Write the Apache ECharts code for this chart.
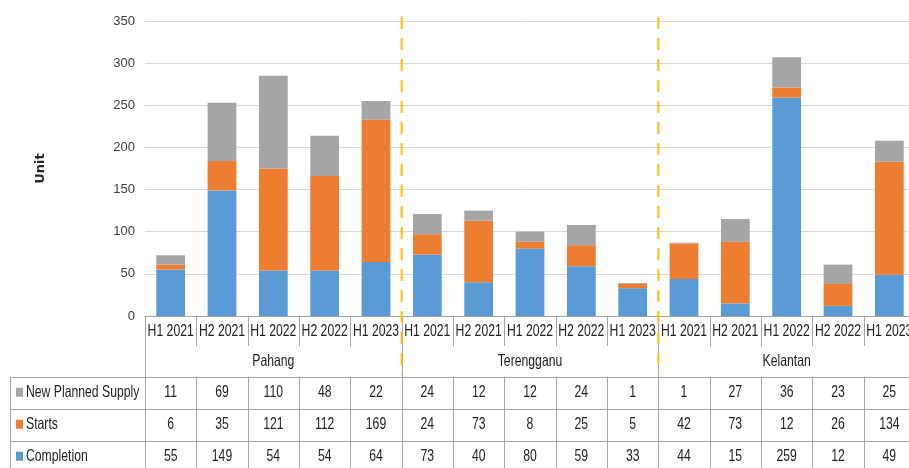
<!DOCTYPE html>
<html>
<head>
<meta charset="utf-8">
<script src="https://cdn.jsdelivr.net/npm/echarts@6/dist/echarts.min.js"></script>
<style>
  html, body { margin: 0; padding: 0; background: #ffffff; }
  #chart { width: 909px; height: 468px; }
</style>
</head>
<body>
<div id="chart"></div>
<script>
// Half-year periods, grouped by state
const periods = ['H1 2021', 'H2 2021', 'H1 2022', 'H2 2022', 'H1 2023',
                 'H1 2021', 'H2 2021', 'H1 2022', 'H2 2022', 'H1 2023',
                 'H1 2021', 'H2 2021', 'H1 2022', 'H2 2022', 'H1 2023'];
const states = ['Pahang', 'Terengganu', 'Kelantan'];
const periodsPerState = 5;

// Units per period
const newPlannedSupply = [11, 69, 110, 48, 22, 24, 12, 12, 24, 1, 1, 27, 36, 23, 25];
const starts = [6, 35, 121, 112, 169, 24, 73, 8, 25, 5, 42, 73, 12, 26, 134];
const completion = [55, 149, 54, 54, 64, 73, 40, 80, 59, 33, 44, 15, 259, 12, 49];

const yTicks = { min: 0, max: 350, interval: 50 };

const COLORS = { nps: '#A5A5A5', starts: '#ED7D31', completion: '#5B9BD5' };
const FONT = '"Liberation Sans", Arial, sans-serif';
const NARROW = 0.74;   // horizontal squeeze for a condensed look
const LINE = '#a6a6a6';

const chart = echarts.init(document.getElementById('chart'), null, { renderer: 'canvas' });

const barSeries = (name, data, color) => ({
  name, type: 'bar', stack: 'total', data, barWidth: '56%',
  itemStyle: { color }, emphasis: { disabled: true }, animation: false
});

chart.setOption({
  animation: false,
  grid: { left: 145, top: 21, width: 770, height: 295, containLabel: false, outerBoundsMode: 'none' },
  xAxis: {
    type: 'category', data: periods, boundaryGap: true,
    axisLine: { show: true, lineStyle: { color: LINE, width: 1 } },
    axisTick: { show: false },
    axisLabel: { show: false }
  },
  yAxis: {
    type: 'value', min: yTicks.min, max: yTicks.max, interval: yTicks.interval,
    axisLine: { show: false }, axisTick: { show: false },
    axisLabel: { fontSize: 13, fontFamily: FONT, color: '#404040', margin: 10 },
    splitLine: { lineStyle: { color: '#d9d9d9', width: 1 } }
  },
  series: [
    barSeries('Completion', completion, COLORS.completion),
    barSeries('Starts', starts, COLORS.starts),
    barSeries('New Planned Supply', newPlannedSupply, COLORS.nps)
  ]
});

// Data table and separators under the plot, laid out from the axis scale
function buildTable() {
  const c0 = chart.convertToPixel({ xAxisIndex: 0 }, 0);
  const c1 = chart.convertToPixel({ xAxisIndex: 0 }, 1);
  const step = c1 - c0;
  const left = c0 - step / 2;
  const base = chart.convertToPixel({ yAxisIndex: 0 }, 0);
  const top = chart.convertToPixel({ yAxisIndex: 0 }, yTicks.max);
  const bx = i => left + i * step;

  const catRowBottom = base + 30;
  const groupRowBottom = catRowBottom + 30.7;
  const rowH = 32;
  const tableLeft = 10;
  const rows = [
    { name: 'New Planned Supply', data: newPlannedSupply, color: COLORS.nps },
    { name: 'Starts', data: starts, color: COLORS.starts },
    { name: 'Completion', data: completion, color: COLORS.completion }
  ];
  const tableBottom = groupRowBottom + rows.length * rowH;
  const els = [];
  const line = (x1, y1, x2, y2, extra) => els.push({
    type: 'line', silent: true, z: 10,
    shape: { x1, y1, x2, y2 },
    style: Object.assign({ stroke: LINE, lineWidth: 1 }, extra || {})
  });
  const text = (t, x, y, align) => els.push({
    type: 'text', silent: true, z: 12, x, y, scaleX: NARROW,
    style: { text: t, x: 0, y: 0, align: align || 'center', verticalAlign: 'middle',
      font: '16.5px ' + FONT, fill: '#1f1f1f' }
  });

  // Period labels
  periods.forEach((p, i) => text(p, bx(i) + step / 2, base + 15));

  // Category-row dividers and group dividers
  for (let i = 0; i <= periods.length; i++) {
    const isGroup = i % periodsPerState === 0;
    const x = Math.round(bx(i)) + 0.5;
    line(x, base, x, isGroup ? tableBottom : catRowBottom);
    if (!isGroup) line(x, groupRowBottom, x, tableBottom);
  }
  // Group labels
  states.forEach((s, g) => {
    const cx = (bx(g * periodsPerState) + bx((g + 1) * periodsPerState)) / 2;
    text(s, cx, (catRowBottom + groupRowBottom) / 2);
  });
  // Table rows
  const right = bx(periods.length);
  line(tableLeft + 0.5, groupRowBottom, tableLeft + 0.5, tableBottom);
  rows.forEach((r, k) => {
    const y0 = groupRowBottom + k * rowH;
    line(tableLeft, Math.round(y0) + 0.5, right, Math.round(y0) + 0.5);
    const cy = y0 + rowH / 2;
    els.push({ type: 'rect', silent: true, z: 12,
      shape: { x: 16, y: cy - 5, width: 7, height: 9 }, style: { fill: r.color } });
    text(r.name, 26, cy, 'left');
    r.data.forEach((v, i) => text(String(v), bx(i) + step / 2, cy));
  });
  line(tableLeft, Math.round(tableBottom) + 0.5, right, Math.round(tableBottom) + 0.5);

  // Dashed separators between states
  for (let g = 1; g < states.length; g++) {
    const x = bx(g * periodsPerState);
    els.push({ type: 'line', silent: true, z: 11,
      shape: { x1: x, y1: top - 4, x2: x, y2: groupRowBottom - 2 },
      style: { stroke: '#FFC000', lineWidth: 2, lineDash: [12, 9] } });
  }
  // Axis title
  els.push({ type: 'text', silent: true, z: 12, rotation: Math.PI / 2, x: 41, y: (top + base) / 2,
    style: { text: 'Unit', align: 'center', verticalAlign: 'middle',
      font: 'bold 13px "DejaVu Sans", sans-serif', fill: '#262626' } });

  chart.setOption({ graphic: { elements: els } });
}
buildTable();
</script>
</body>
</html>
